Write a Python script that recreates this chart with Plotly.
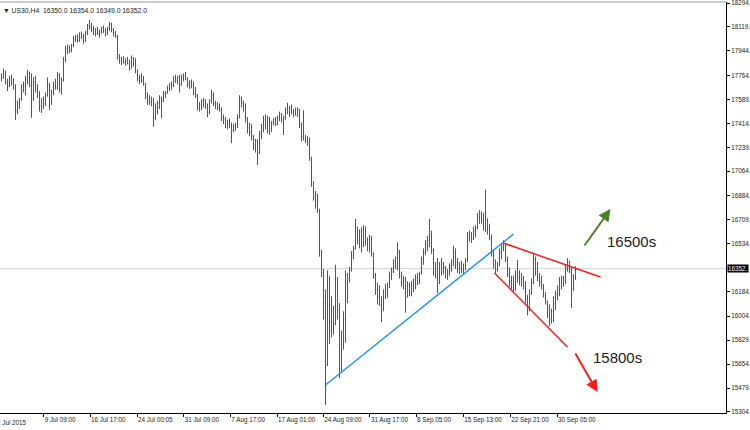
import plotly.graph_objects as go

# ---------------- data (US30, H4) ----------------
symbol = "US30,H4"

opens = [
    17740,17760,17790,17710,17690,17740,17720,17680,17500,17560,
    17590,17680,17700,17740,17790,17700,17600,17720,17660,17620,
    17540,17580,17560,17620,17700,17560,17640,17700,17680,17770,
    17660,17730,17880,17950,17970,17950,17985,18030,18040,18020,
    18070,18045,18020,18080,18130,18120,18100,18080,18100,18070,
    18090,18110,18090,18080,18110,18140,18100,18070,18050,17900,
    17870,17880,17860,17870,17850,17820,17890,17850,17800,17740,
    17750,17730,17700,17610,17590,17570,17590,17450,17530,17560,
    17600,17580,17630,17640,17680,17700,17690,17740,17730,17750,
    17700,17750,17760,17740,17700,17720,17690,17640,17620,17530,
    17550,17570,17580,17540,17490,17580,17620,17560,17550,17530,
    17520,17450,17440,17400,17420,17390,17360,17390,17400,17460,
    17590,17560,17540,17450,17380,17350,17320,17260,17280,17200,
    17330,17380,17440,17400,17450,17360,17420,17440,17410,17460,
    17480,17440,17450,17520,17500,17530,17490,17500,17480,17510,
    17400,17320,17300,17290,17270,17160,16980,16880,16820,16780,
    16480,16320,16100,15650,16200,15900,16050,15950,16280,16050,
    15700,15800,15980,16250,16280,16340,16450,16500,16650,16560,
    16620,16520,16640,16560,16530,16500,16460,16300,16200,16150,
    16120,16050,16180,16160,16220,16300,16330,16400,16380,16480,
    16300,16250,16270,16150,16220,16180,16230,16250,16290,16260,
    16320,16420,16470,16530,16560,16600,16490,16330,16370,16250,
    16380,16330,16360,16300,16330,16370,16400,16470,16380,16350,
    16380,16340,16370,16410,16580,16600,16570,16630,16650,16730,
    16750,16720,16660,16700,16650,16580,16470,16380,16340,16380,
    16470,16510,16520,16420,16320,16260,16240,16200,16310,16290,
    16260,16280,16230,16130,16050,16170,16250,16420,16330,16290,
    16250,16220,16160,16110,16020,15980,16040,16100,16160,16200,
    16250,16280,16260,16350,16400,16350,16200,16290,16350,
]

highs = [
    17780,17815,17800,17740,17760,17770,17745,17700,17580,17600,
    17700,17720,17760,17805,17790,17780,17750,17760,17700,17650,
    17600,17610,17640,17750,17710,17660,17720,17740,17790,17780,
    17750,17900,17980,17990,17985,17995,18050,18060,18065,18080,
    18085,18070,18090,18140,18170,18150,18125,18110,18120,18100,
    18120,18130,18110,18120,18155,18150,18110,18090,18060,17920,
    17900,17905,17890,17900,17880,17910,17900,17890,17810,17770,
    17780,17760,17710,17640,17620,17610,17600,17560,17580,17620,
    17610,17650,17650,17690,17710,17720,17760,17770,17760,17770,
    17770,17780,17790,17750,17730,17735,17720,17680,17630,17570,
    17590,17600,17590,17560,17590,17660,17640,17580,17570,17560,
    17530,17480,17460,17440,17450,17420,17410,17420,17480,17620,
    17610,17580,17560,17460,17420,17410,17330,17300,17300,17360,
    17410,17470,17480,17470,17460,17430,17450,17460,17470,17500,
    17490,17470,17530,17565,17540,17550,17520,17530,17530,17520,
    17420,17510,17330,17320,17310,17170,16990,16920,16900,16790,
    16490,16350,16200,16340,16300,16150,16080,16380,16290,16100,
    15900,16040,16340,16320,16365,16480,16520,16715,16660,16640,
    16655,16670,16660,16580,16600,16590,16470,16320,16250,16230,
    16150,16200,16240,16250,16330,16360,16420,16440,16545,16490,
    16330,16300,16290,16260,16250,16260,16280,16310,16320,16330,
    16440,16500,16560,16590,16715,16630,16500,16400,16430,16400,
    16430,16400,16370,16350,16390,16420,16520,16500,16430,16400,
    16410,16390,16430,16620,16630,16620,16660,16670,16760,16780,
    16770,16760,16930,16720,16680,16600,16480,16420,16400,16500,
    16540,16560,16530,16440,16360,16300,16300,16340,16415,16340,
    16320,16300,16260,16160,16200,16280,16460,16440,16400,16320,
    16300,16240,16180,16120,16090,16060,16150,16190,16230,16290,
    16300,16300,16380,16430,16410,16360,16310,16370,16354,
]

lows = [
    17720,17740,17700,17650,17680,17690,17660,17440,17480,17520,
    17580,17640,17620,17700,17680,17455,17580,17640,17600,17500,
    17490,17520,17540,17610,17510,17550,17620,17660,17660,17640,
    17625,17720,17860,17920,17930,17935,17970,18010,18005,18010,
    18030,17995,18010,18060,18100,18080,18060,18050,18060,18040,
    18070,18075,18050,18060,18090,18080,18050,18040,17880,17850,
    17840,17850,17835,17845,17800,17815,17830,17780,17720,17700,
    17710,17690,17590,17550,17550,17540,17390,17440,17480,17520,
    17450,17570,17600,17630,17650,17660,17680,17710,17700,17640,
    17690,17720,17730,17680,17665,17670,17620,17600,17510,17500,
    17510,17530,17520,17460,17480,17560,17540,17520,17510,17500,
    17430,17410,17380,17370,17380,17270,17350,17360,17380,17450,
    17530,17500,17420,17340,17320,17290,17220,17200,17110,17190,
    17300,17350,17370,17340,17330,17350,17400,17395,17400,17430,
    17420,17330,17440,17480,17460,17480,17460,17470,17460,17380,
    17280,17290,17270,17250,17140,16950,16850,16790,16760,16440,
    16290,15980,15355,15640,15800,15850,15870,15940,15980,15550,
    15600,15760,15810,16100,16250,16330,16420,16490,16530,16500,
    16470,16510,16520,16480,16470,16440,16280,16160,16090,16080,
    15960,16040,16130,16140,16210,16270,16320,16350,16340,16280,
    16220,16200,16030,16140,16150,16150,16180,16200,16230,16240,
    16310,16380,16450,16480,16510,16460,16300,16280,16175,16240,
    16300,16310,16280,16270,16300,16330,16370,16350,16320,16310,
    16320,16310,16340,16400,16550,16540,16560,16580,16640,16680,
    16680,16630,16620,16600,16560,16440,16350,16320,16330,16370,
    16420,16480,16400,16290,16220,16200,16180,16190,16250,16230,
    16220,16200,16100,16010,16040,16160,16240,16300,16260,16220,
    16200,16140,16090,15990,15930,15950,15960,16050,16120,16150,
    16200,16220,16240,16330,16320,16065,16190,16270,16349,
]

closes = [
    17760,17790,17710,17690,17740,17720,17680,17500,17560,17590,
    17680,17700,17740,17790,17700,17600,17720,17660,17620,17540,
    17580,17560,17620,17700,17560,17640,17700,17680,17770,17660,
    17730,17880,17950,17970,17950,17985,18030,18040,18020,18070,
    18045,18020,18080,18130,18120,18100,18080,18100,18070,18090,
    18110,18090,18080,18110,18140,18100,18070,18050,17900,17870,
    17880,17860,17870,17850,17820,17890,17850,17800,17740,17750,
    17730,17700,17610,17590,17570,17590,17450,17530,17560,17600,
    17580,17630,17640,17680,17700,17690,17740,17730,17750,17700,
    17750,17760,17740,17700,17720,17690,17640,17620,17530,17550,
    17570,17580,17540,17490,17580,17620,17560,17550,17530,17520,
    17450,17440,17400,17420,17390,17360,17390,17400,17460,17590,
    17560,17540,17450,17380,17350,17320,17260,17280,17200,17330,
    17380,17440,17400,17450,17360,17420,17440,17410,17460,17480,
    17440,17450,17520,17500,17530,17490,17500,17480,17510,17400,
    17320,17300,17290,17270,17160,16980,16880,16820,16780,16480,
    16320,16100,15650,16200,15900,16050,15950,16280,16050,15700,
    15800,15980,16250,16280,16340,16450,16500,16650,16560,16620,
    16520,16640,16560,16530,16500,16460,16300,16200,16150,16120,
    16050,16180,16160,16220,16300,16330,16400,16380,16480,16300,
    16250,16270,16150,16220,16180,16230,16250,16290,16260,16320,
    16420,16470,16530,16560,16600,16490,16330,16370,16250,16380,
    16330,16360,16300,16330,16370,16400,16470,16380,16350,16380,
    16340,16370,16410,16580,16600,16570,16630,16650,16730,16750,
    16720,16660,16700,16650,16580,16470,16380,16340,16380,16470,
    16510,16520,16420,16320,16260,16240,16200,16310,16290,16260,
    16280,16230,16130,16050,16170,16250,16420,16330,16290,16250,
    16220,16160,16110,16020,15980,16040,16100,16160,16200,16250,
    16280,16260,16350,16400,16350,16200,16290,16350,16352,
]

# time labels of the x axis (bar index where each label sits)
first_label = "2 Jul 2015"
time_labels = ["9 Jul 09:00", "16 Jul 17:00", "24 Jul 00:05", "31 Jul 09:00",
               "7 Aug 17:00", "17 Aug 01:00", "24 Aug 09:00", "31 Aug 17:00",
               "8 Sep 05:00", "15 Sep 13:00", "22 Sep 21:00", "30 Sep 05:00"]
time_label_bars = [21.1, 44.3, 67.8, 91.1, 114.4, 137.8, 160.9, 184.2,
                   207.3, 230.9, 254.4, 277.8]

# price scale labels
price_ticks = [18294, 18119, 17944, 17764, 17589, 17414, 17239, 17064, 16884,
               16709, 16534, 16184, 16004, 15829, 15654, 15479, 15304]

# hand-drawn analysis objects: (bar index, price)
blue_trend = [(162, 15501), (256, 16605)]
red_upper = [(251, 16539), (299.5, 16291)]
red_lower = [(246.5, 16320), (283, 15779)]
green_arrow = [(291, 16510), (304.5, 16788)]   # tail, head
red_arrow = [(286.5, 15742), (298, 15450)]     # tail, head
target_up = ("16500s", 315, 16554)
target_down = ("15800s", 308, 15699)

# ---------------- figure ----------------
bars = list(range(len(closes)))
bar_color = "#555555"
tick_font = dict(family="Liberation Sans", size=6.3, color="#1a1a1a")

fig = go.Figure()
fig.add_trace(go.Ohlc(
    x=bars, open=opens, high=highs, low=lows, close=closes,
    increasing=dict(line=dict(color=bar_color, width=1)),
    decreasing=dict(line=dict(color=bar_color, width=1)),
    tickwidth=0.3, hoverinfo="skip", showlegend=False,
))

last_close = closes[-1]
shapes = []
# current price line
shapes.append(dict(type="line", xref="paper", x0=0, x1=1, yref="y",
                   y0=last_close, y1=last_close, layer="below",
                   line=dict(color="#d2d2d2", width=1)))
# top border
shapes.append(dict(type="line", xref="paper", x0=0, x1=1, yref="paper",
                   y0=1, y1=1, line=dict(color="#9a9a9a", width=1)))
for (p0, p1), col in [(blue_trend, "#1e90ff"), (red_upper, "#ff1a1a"),
                      (red_lower, "#ff1a1a")]:
    shapes.append(dict(type="line", xref="x", yref="y",
                       x0=p0[0], y0=p0[1], x1=p1[0], y1=p1[1],
                       line=dict(color=col, width=1.5)))

annotations = []
for (tail, head), col in [(green_arrow, "#4a7f22"), (red_arrow, "#ff1a1a")]:
    annotations.append(dict(x=head[0], y=head[1], ax=tail[0], ay=tail[1],
                            xref="x", yref="y", axref="x", ayref="y",
                            text="", showarrow=True, arrowhead=2,
                            arrowsize=1.2, arrowwidth=2, arrowcolor=col))
for txt, xb, yp in [target_up, target_down]:
    annotations.append(dict(x=xb, y=yp, xref="x", yref="y", text=txt,
                            showarrow=False, xanchor="center", yanchor="middle",
                            font=dict(family="Liberation Sans", size=15,
                                      color="#1a1a1a")))
# current price box on the price scale
annotations.append(dict(x=1, y=last_close, xref="paper", yref="y",
                        text=f"{last_close}.", showarrow=False,
                        xanchor="left", yanchor="middle", xshift=1,
                        bgcolor="#000000", borderpad=0,
                        font=dict(family="Liberation Sans", size=6.3,
                                  color="#ffffff")))
# header
header = (f"{symbol}  {opens[-1]:.1f} {highs[-1]:.1f} "
          f"{lows[-1]:.1f} {closes[-1]:.1f}")
annotations.append(dict(x=0, y=1, xref="paper", yref="paper",
                        text="▼ " + header, showarrow=False,
                        xanchor="left", yanchor="top", xshift=1, yshift=-3,
                        font=dict(family="Liberation Sans", size=6.8,
                                  color="#1a1a1a")))
# first (cut off) time label
annotations.append(dict(x=0, y=0, xref="paper", yref="paper",
                        text=first_label, showarrow=False,
                        xanchor="left", yanchor="top", xshift=-5, yshift=-4,
                        font=tick_font))

fig.update_layout(
    width=750, height=430,
    margin=dict(l=0, r=24, t=2, b=17),
    paper_bgcolor="white", plot_bgcolor="white",
    shapes=shapes, annotations=annotations,
    showlegend=False,
    xaxis=dict(range=[-0.75, 362.25], rangeslider=dict(visible=False),
               showgrid=False, zeroline=False, showline=True,
               linecolor="#000000", linewidth=1,
               tickmode="array", tickvals=time_label_bars,
               ticktext=time_labels, ticks="outside", ticklen=3,
               tickcolor="#000000", ticklabelposition="outside right",
               tickangle=0, tickfont=tick_font, fixedrange=True),
    yaxis=dict(range=[15296.6, 18301.4], side="right",
               showgrid=False, zeroline=False, showline=True,
               linecolor="#000000", linewidth=1,
               tickmode="array", tickvals=price_ticks,
               ticktext=[f"{v}." for v in price_ticks],
               ticks="outside", ticklen=3, tickcolor="#000000",
               ticklabeloverflow="allow",
               tickfont=tick_font, fixedrange=True),
)

fig.write_html("out.html",
               config={"displayModeBar": False},
               post_script="document.body.style.margin='0';")
